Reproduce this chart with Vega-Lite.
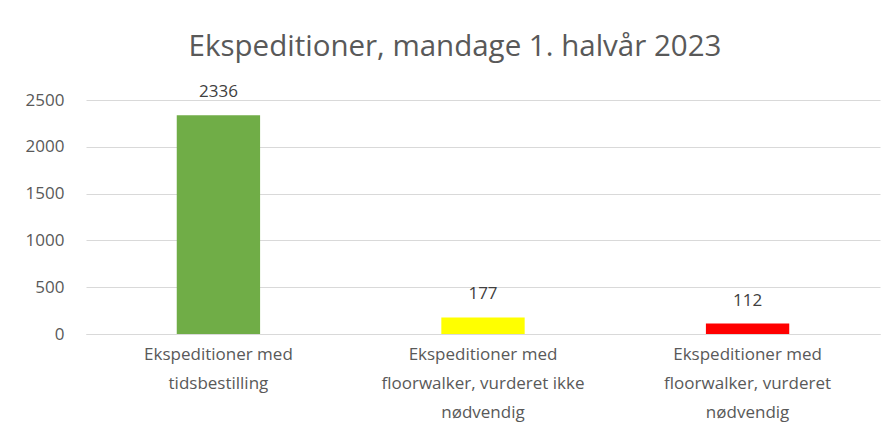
{
  "$schema": "https://vega.github.io/schema/vega-lite/v6.json",
  "autosize": "none",
  "width": 794,
  "height": 234,
  "padding": {"left": 86, "top": 100, "right": 15, "bottom": 102},
  "background": "white",
  "title": {
    "text": "Ekspeditioner, mandage 1. halvår 2023",
    "fontSize": 29.5,
    "font": "Open Sans, sans-serif",
    "fontWeight": "normal",
    "color": "#595959",
    "anchor": "middle",
    "dx": -28,
    "offset": 21
  },
  "data": {
    "values": [
      {"kategori": "Ekspeditioner med tidsbestilling", "antal": 2336, "farve": "groen"},
      {"kategori": "Ekspeditioner med floorwalker, vurderet ikke nødvendig", "antal": 177, "farve": "gul"},
      {"kategori": "Ekspeditioner med floorwalker, vurderet nødvendig", "antal": 112, "farve": "roed"}
    ]
  },
  "encoding": {
    "x": {
      "field": "kategori",
      "type": "nominal",
      "sort": null,
      "scale": {"paddingInner": 0.685, "paddingOuter": 0.343},
      "axis": {
        "title": null,
        "labelAngle": 0,
        "domain": true,
        "domainColor": "#d9d9d9",
        "ticks": false,
        "labelPadding": 12,
        "labelFontSize": 17,
        "labelFont": "Open Sans, sans-serif",
        "labelColor": "#595959",
        "labelLineHeight": 29,
        "labelLimit": 300,
        "labelExpr": "datum.value == 'Ekspeditioner med tidsbestilling' ? ['Ekspeditioner med', 'tidsbestilling'] : datum.value == 'Ekspeditioner med floorwalker, vurderet ikke nødvendig' ? ['Ekspeditioner med', 'floorwalker, vurderet ikke', 'nødvendig'] : ['Ekspeditioner med', 'floorwalker, vurderet', 'nødvendig']"
      }
    },
    "y": {
      "field": "antal",
      "type": "quantitative",
      "scale": {"domain": [0, 2500]},
      "axis": {
        "title": null,
        "values": [0, 500, 1000, 1500, 2000, 2500],
        "format": "d",
        "domain": false,
        "ticks": false,
        "gridColor": "#d9d9d9",
        "labelPadding": 22,
        "labelFontSize": 17,
        "labelFont": "Open Sans, sans-serif",
        "labelColor": "#595959"
      }
    }
  },
  "layer": [
    {
      "mark": {"type": "bar"},
      "encoding": {
        "color": {
          "field": "farve",
          "type": "nominal",
          "scale": {"domain": ["groen", "gul", "roed"], "range": ["#70ad47", "#ffff00", "#ff0000"]},
          "legend": null
        }
      }
    },
    {
      "mark": {
        "type": "text",
        "dy": -23,
        "fontSize": 17,
        "font": "Open Sans, sans-serif",
        "color": "#404040"
      },
      "encoding": {
        "text": {"field": "antal", "type": "quantitative"}
      }
    }
  ],
  "config": {"view": {"stroke": null}}
}
